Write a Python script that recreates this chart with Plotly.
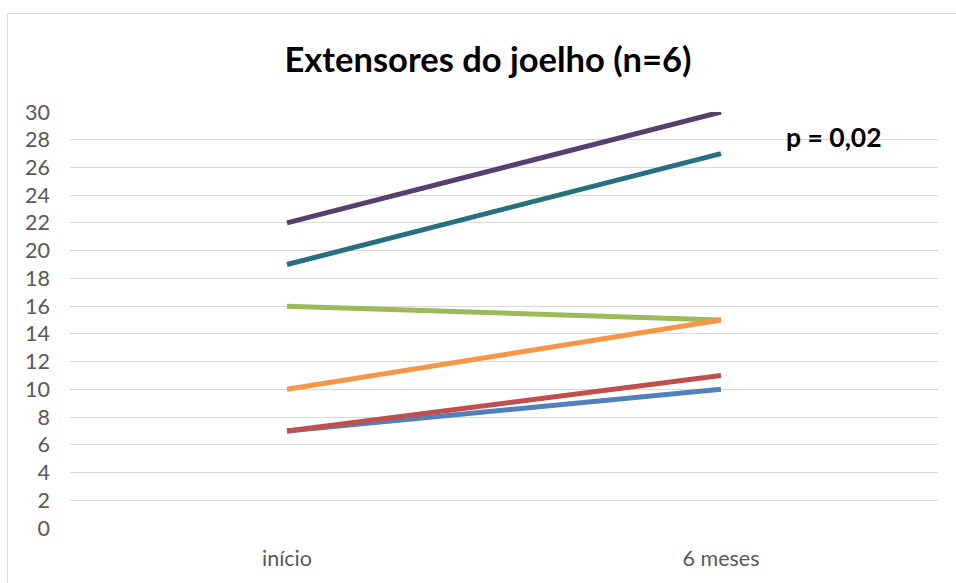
import plotly.graph_objects as go

categories = ["início", "6 meses"]
series_values = [
    [7, 10],   # blue
    [7, 11],   # red
    [16, 15],  # green
    [22, 30],  # purple
    [19, 27],  # teal
    [10, 15],  # orange
]
series_colors = ["#4F81BD", "#C0504D", "#9BBB59", "#573F6E", "#26707F", "#F79646"]
y_ticks = list(range(0, 31, 2))

FONT = "Lato, Open Sans, sans-serif"

fig = go.Figure()
for vals, col in zip(series_values, series_colors):
    fig.add_trace(go.Scatter(
        x=categories, y=vals, mode="lines",
        line=dict(color=col, width=5),
        showlegend=False, hoverinfo="skip",
    ))

W, H = 956, 583
L, R, T, B = 70, 18, 112, 55
pw, ph = W - L - R, H - T - B

def px_x(p):
    return (p - L) / pw

def px_y(p):
    return (H - B - p) / ph

fig.add_shape(type="rect", xref="paper", yref="paper",
              x0=px_x(7.5), x1=px_x(970), y0=px_y(600), y1=px_y(13.5),
              line=dict(color="#D9D9D9", width=1), fillcolor="rgba(0,0,0,0)", layer="below")

fig.add_annotation(xref="paper", yref="paper", x=px_x(834), y=px_y(137),
                   text="<b>p = 0,02</b>", showarrow=False,
                   font=dict(family=FONT, size=26.5, color="#000000"),
                   xanchor="center", yanchor="middle")

fig.update_layout(
    width=W, height=H,
    margin=dict(l=L, r=R, t=T, b=B),
    paper_bgcolor="white", plot_bgcolor="white",
    title=dict(text="<b>Extensores do joelho (n=6)</b>", xref="container", x=488 / W,
               xanchor="center", y=1 - 60 / H, yanchor="middle",
               font=dict(family=FONT, size=34.5, color="#000000")),
    xaxis=dict(type="category", range=[-0.5, 1.5], showgrid=False, zeroline=False,
               showline=False, ticks="", ticklabelstandoff=15,
               tickfont=dict(family=FONT, size=21.5, color="#595959")),
    yaxis=dict(range=[0, 30], tickvals=y_ticks, showgrid=True, gridcolor="#D9D9D9",
               gridwidth=1, zeroline=False, showline=False, ticks="", ticklabelstandoff=19,
               tickfont=dict(family=FONT, size=21.5, color="#595959")),
)

fig.write_html("out.html")
